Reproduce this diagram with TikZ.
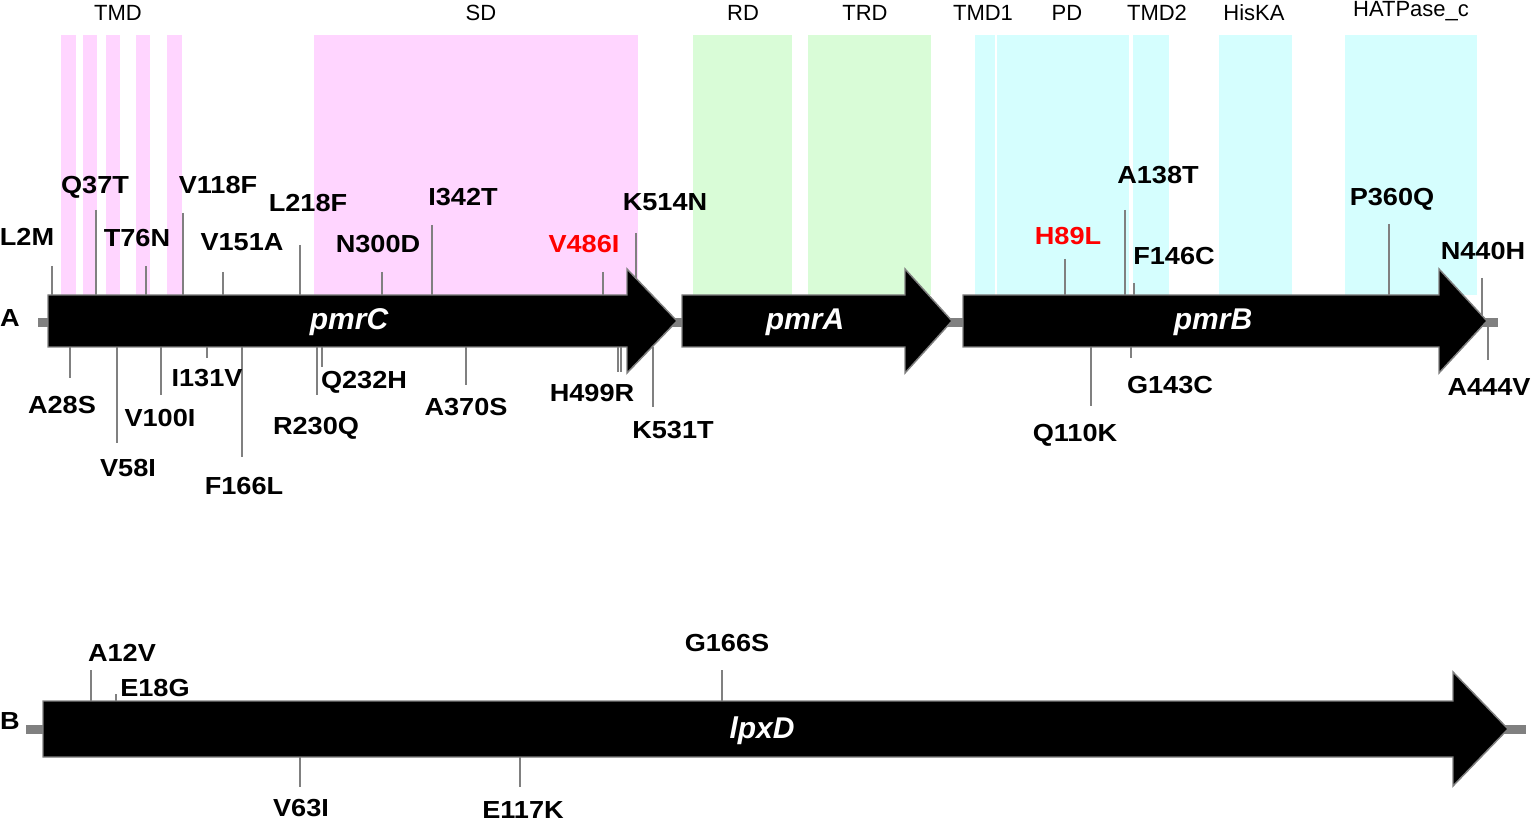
\documentclass[tikz,border=0pt]{standalone}
\usepackage{fontspec}
\setmainfont{Liberation Sans}
\newfontfamily\mutfont[FakeStretch=1.1]{Liberation Sans}
\usepackage{tikz}

\definecolor{sdpink}{RGB}{255,213,255}
\definecolor{rdgreen}{RGB}{217,252,215}
\definecolor{hkcyan}{RGB}{213,254,254}

\begin{document}
\begin{tikzpicture}[x=0.75pt,y=0.75pt,yscale=-1,xscale=1,
        mut/.style={font=\mutfont\fontsize{18.5}{20}\selectfont\bfseries, inner sep=0.75pt},
        hot/.style={mut, text=red},
        dom/.style={font=\fontsize{16.5}{18}\selectfont, inner sep=0.75pt},
        gene/.style={fill=black, draw=gray, line width=1.1pt},
        genename/.style={font=\fontsize{22.5}{24}\selectfont\bfseries\itshape, text=white, inner sep=0.75pt},
        mtick/.style={draw=gray, line width=1.1pt},
        backbone/.style={draw=gray, line width=6.5pt}]
        \useasboundingbox (0,0) rectangle (1532,823);

        % domain bands
        \foreach \a/\b in {61/76, 83/97, 106/120, 136/150, 167/182, 314/638}
            \fill[sdpink] (\a,35) rectangle (\b,295);
        \foreach \a/\b in {693/792, 808/931}
            \fill[rdgreen] (\a,35) rectangle (\b,295);
        \foreach \a/\b in {975/995, 997/1129, 1133/1169, 1219/1292, 1345/1477}
            \fill[hkcyan] (\a,35) rectangle (\b,295);

        \node[dom] (tmd) at (118,13) {TMD};
        \node[dom] (sd) at (481,13) {SD};
        \node[dom] (rd) at (743,13) {RD};
        \node[dom] (trd) at (865,13) {TRD};
        \node[dom] (tmdone) at (983,13) {TMD1};
        \node[dom] (pd) at (1067,13) {PD};
        \node[dom] (tmdtwo) at (1157,13) {TMD2};
        \node[dom] (hiska) at (1254,13) {HisKA};
        \node[dom] (hatpase) at (1411,11) {HATPase\_c};

        % operon A
        \draw[backbone] (38,322.5) -- (1498,322.5);
        \draw[gene] (48,295) -- (627,295) -- (627,269) -- (677,321) -- (627,373) -- (627,347) -- (48,347) -- cycle;
        \draw[gene] (682,295) -- (905,295) -- (905,269) -- (952,321) -- (905,373) -- (905,347) -- (682,347) -- cycle;
        \draw[gene] (963,295) -- (1439,295) -- (1439,269) -- (1487,321) -- (1439,373) -- (1439,347) -- (963,347) -- cycle;
        \node[genename] (pmrC) at (349,322) {pmrC};
        \node[genename] (pmrA) at (805,322) {pmrA};
        \node[genename] (pmrB) at (1213,322) {pmrB};
        \node[mut] (rowA) at (10,318) {A};

        % mutation ticks, A
        \foreach \x/\ya/\yb in {52/266/295, 96/210/295, 146/266/295, 183/213/295, 223/272/295, 300/245/295,
                382/272/295, 432/225/295, 603/272/295, 636/233/279,
                70/347/378, 117/347/443, 161/347/395, 207/347/358, 242/347/457, 317/347/395, 322/347/367,
                466/347/385, 618/347/372, 621/347/372, 653/347/407,
                1065/259/295, 1125/210/295, 1134/283/295, 1389/224/295, 1482/278/316,
                1091/347/406, 1131/347/358, 1488/322/360}
            \draw[mtick] (\x,\ya) -- (\x,\yb);

        \node[mut] (l2m) at (27,237) {L2M};
        \node[mut] (q37t) at (95,187) {Q37T};
        \node[mut] (t76n) at (137,238) {T76N};
        \node[mut] (v118f) at (218,185) {V118F};
        \node[mut] (v151a) at (242,242) {V151A};
        \node[mut] (l218f) at (308,203) {L218F};
        \node[mut] (n300d) at (378,244) {N300D};
        \node[mut] (i342t) at (463,197) {I342T};
        \node[hot] (v486i) at (584,244) {V486I};
        \node[mut] (k514n) at (665,202) {K514N};
        \node[mut] (a28s) at (62,405) {A28S};
        \node[mut] (v58i) at (128,468) {V58I};
        \node[mut] (v100i) at (160,418) {V100I};
        \node[mut] (i131v) at (207,378) {I131V};
        \node[mut] (f166l) at (244,486) {F166L};
        \node[mut] (r230q) at (316,428) {R230Q};
        \node[mut] (q232h) at (364,382) {Q232H};
        \node[mut] (a370s) at (466,407) {A370S};
        \node[mut] (h499r) at (592,393) {H499R};
        \node[mut] (k531t) at (673,430) {K531T};
        \node[hot] (h89l) at (1068,236) {H89L};
        \node[mut] (a138t) at (1158,175) {A138T};
        \node[mut] (f146c) at (1174,256) {F146C};
        \node[mut] (p360q) at (1392,199) {P360Q};
        \node[mut] (n440h) at (1483,251) {N440H};
        \node[mut] (q110k) at (1075,435) {Q110K};
        \node[mut] (g143c) at (1170,385) {G143C};
        \node[mut] (a444v) at (1489,387) {A444V};

        % gene B
        \draw[backbone] (26,729.5) -- (1526,729.5);
        \draw[gene] (43,701) -- (1453,701) -- (1453,672) -- (1508,729) -- (1453,786) -- (1453,757) -- (43,757) -- cycle;
        \node[genename] (lpxD) at (762,731) {lpxD};
        \node[mut] (rowB) at (10,721) {B};

        \foreach \x/\ya/\yb in {91/670/701, 116/694/701, 722/670/701, 300/757/787, 520/757/787}
            \draw[mtick] (\x,\ya) -- (\x,\yb);

        \node[mut] (a12v) at (122,653) {A12V};
        \node[mut] (e18g) at (155,688) {E18G};
        \node[mut] (g166s) at (727,643) {G166S};
        \node[mut] (v63i) at (301,808) {V63I};
        \node[mut] (e117k) at (523,810) {E117K};
    \end{tikzpicture}
\end{document}
